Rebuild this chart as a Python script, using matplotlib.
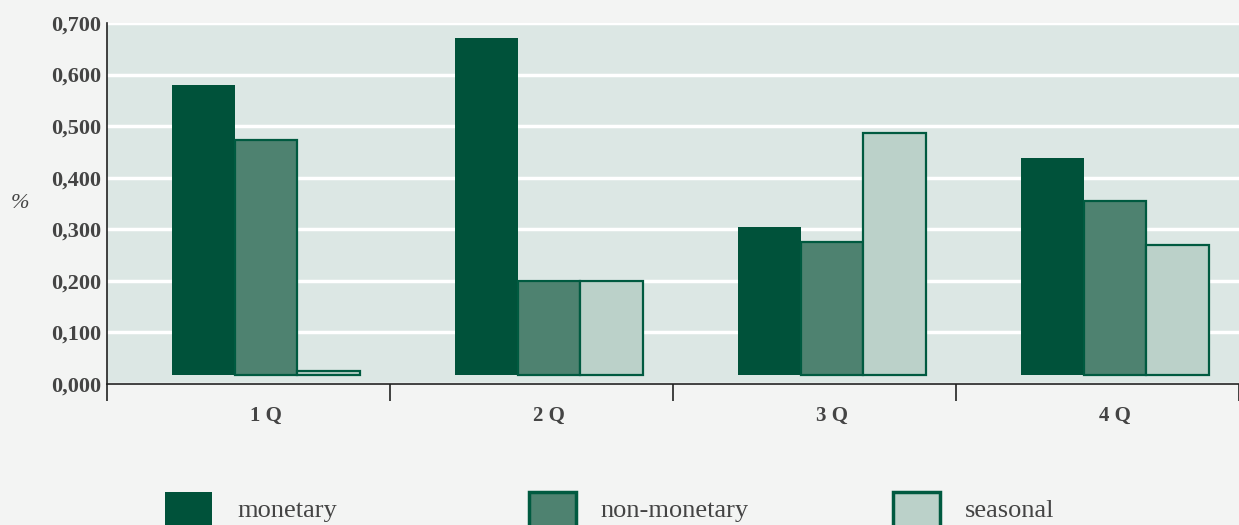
import numpy as np
import matplotlib.pyplot as plt
from matplotlib.patches import Rectangle

quarters = ["1 Q", "2 Q", "3 Q", "4 Q"]
series = ["monetary", "non-monetary", "seasonal"]
monetary = [0.579, 0.670, 0.305, 0.438]
non_monetary = [0.473, 0.200, 0.276, 0.354]
seasonal = [0.026, 0.200, 0.487, 0.270]
yticks = [0.0, 0.1, 0.2, 0.3, 0.4, 0.5, 0.6, 0.7]

fills = ["#00523a", "#4e8270", "#bbd1c9"]
edge = "#005a40"
base = 0.017      # bars sit on a slight depth offset
shift = 0.062     # ...and are pushed a little to the right
width = 0.222

plt.rcParams["font.family"] = ["Liberation Serif", "DejaVu Serif"]

fig = plt.figure(figsize=(12.39, 5.25), dpi=100, facecolor="#f3f4f3")
ax = fig.add_axes([107 / 1239, 141 / 525, 1132 / 1239, 361 / 525])
ax.set_facecolor("#dce7e4")

x = np.arange(len(quarters)) + 0.5 + shift
for k, vals in enumerate([monetary, non_monetary, seasonal]):
    vals = np.array(vals)
    lw = 0 if k == 0 else 1.6
    ax.bar(x + (k - 1) * width, vals - base, width, bottom=base,
           color=fills[k], edgecolor=edge, linewidth=lw, zorder=3)

ax.set_xlim(0, 4)
ax.set_ylim(0, 0.7)
ax.set_yticks(yticks)
ax.set_yticklabels([f"{v:.3f}".replace(".", ",") for v in yticks],
                   fontsize=16, fontweight="bold", color="#444444")
ax.tick_params(axis="y", length=0, pad=4)
ax.yaxis.grid(True, color="white", linewidth=2.5, zorder=1)
ax.set_axisbelow(True)

ax.set_xticks([0, 1, 2, 3, 4])
ax.set_xticklabels([])
ax.tick_params(axis="x", length=12, width=1.2, color="#222222", direction="out")
ax.set_xticks(x, minor=True)
ax.set_xticklabels(quarters, minor=True, fontsize=15, fontweight="bold", color="#444444")
ax.tick_params(axis="x", which="minor", length=0, pad=16)

for s in ["top", "right"]:
    ax.spines[s].set_visible(False)
for s in ["left", "bottom"]:
    ax.spines[s].set_color("#222222")
    ax.spines[s].set_linewidth(1.2)

fig.text(20 / 1239, 1 - 203 / 525, "%", fontsize=16, color="#444444",
         style="italic", ha="center", va="center")

# legend along the bottom edge
leg_x = [165, 529, 893]
txt_x = [237, 600, 965]
for k in range(3):
    lw = 0 if k == 0 else 2.5
    fig.add_artist(Rectangle((leg_x[k] / 1239, -10 / 525), 47 / 1239, 43 / 525,
                             transform=fig.transFigure, facecolor=fills[k],
                             edgecolor=edge, linewidth=lw))
    fig.text(txt_x[k] / 1239, 1 - 511 / 525, series[k], fontsize=19,
             color="#444444", ha="left", va="center")

fig.savefig("out.png", dpi=100, facecolor=fig.get_facecolor())
